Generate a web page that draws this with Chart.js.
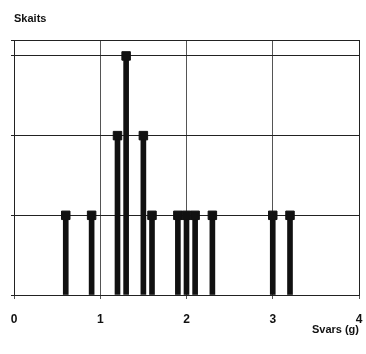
<!DOCTYPE html>
<html>
<head>
<meta charset="utf-8">
<script src="https://cdn.jsdelivr.net/npm/chart.js@4/dist/chart.umd.min.js"></script>
<style>
  html, body { margin: 0; padding: 0; background: #fff; }
  #wrap { width: 366px; height: 354px; }
</style>
</head>
<body>
<div id="wrap"><canvas id="grafiks"></canvas></div>
<script>
// svars (g) un skaits
const svars = [0.6, 0.9, 1.2, 1.3, 1.5, 1.6, 1.9, 2.0, 2.1, 2.3, 3.0, 3.2];
const skaits = [1, 1, 2, 3, 2, 1, 1, 1, 1, 1, 1, 1];
const xTicks = [0, 1, 2, 3, 4];

const punkti = svars.map((v, i) => ({ x: v, y: skaits[i] }));

// ramis ap zimejuma laukumu + virsraksts "Skaits"
const ramis = {
  id: 'ramis',
  afterDraw(chart) {
    const { ctx, chartArea: a } = chart;
    ctx.save();
    ctx.strokeStyle = '#222';
    ctx.lineWidth = 1;
    ctx.strokeRect(a.left + 0.5, a.top + 0.5, a.right - a.left, a.bottom - a.top);
    ctx.fillStyle = '#111';
    ctx.font = 'bold 11px "Liberation Sans", Arial, sans-serif';
    ctx.textBaseline = 'middle';
    ctx.fillText('Skaits', 14, 19);
    ctx.restore();
  }
};

new Chart(document.getElementById('grafiks'), {
  type: 'bar',
  data: {
    datasets: [
      {
        type: 'scatter',
        data: punkti,
        pointStyle: 'rect',
        pointRadius: 6,
        pointBackgroundColor: '#111',
        pointBorderColor: '#111',
        order: 0
      },
      {
        type: 'bar',
        data: punkti,
        backgroundColor: '#111',
        barThickness: 5,
        order: 1
      }
    ]
  },
  plugins: [ramis],
  options: {
    responsive: true,
    maintainAspectRatio: false,
    animation: false,
    layout: { padding: { left: 14, right: 7, top: 40, bottom: 0 } },
    plugins: {
      legend: { display: false },
      tooltip: { enabled: false }
    },
    scales: {
      x: {
        type: 'linear',
        min: 0,
        max: 4,
        offset: false,
        afterBuildTicks: axis => { axis.ticks = xTicks.map(v => ({ value: v })); },
        afterFit: axis => {
          axis.height = 59;
          axis.paddingLeft = 0;
          axis.paddingRight = 0;
        },
        grid: { color: '#555', lineWidth: 1, tickLength: 4, offset: false },
        border: { color: '#222' },
        ticks: {
          color: '#111',
          padding: 13,
          maxRotation: 0,
          font: { family: '"Liberation Sans", Arial, sans-serif', size: 12, weight: 'bold' }
        },
        title: {
          display: true,
          text: 'Svars (g)',
          align: 'end',
          color: '#111',
          padding: { top: 0, bottom: 17 },
          font: { family: '"Liberation Sans", Arial, sans-serif', size: 11, weight: 'bold' }
        }
      },
      y: {
        min: 0,
        max: 3.2,
        ticks: { stepSize: 1, display: false },
        afterFit: axis => { axis.width = 0; },
        grid: { color: '#222', lineWidth: 1, tickLength: 3 },
        border: { color: '#222' }
      }
    }
  }
});
</script>
</body>
</html>
